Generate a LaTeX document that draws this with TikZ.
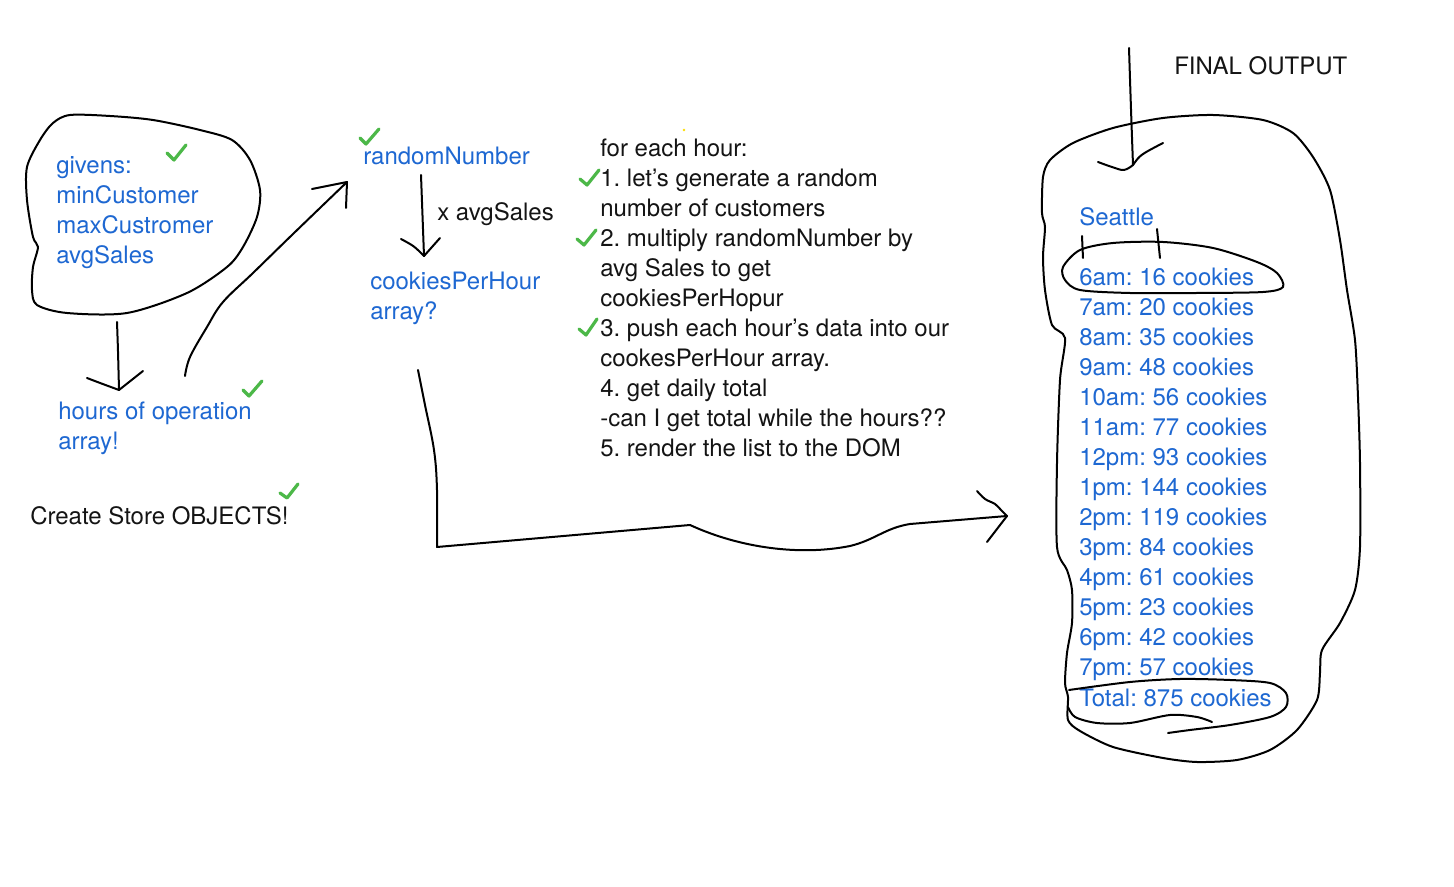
\documentclass[tikz,border=0pt]{standalone}
\usepackage{fontspec}
\setmainfont{TeX Gyre Heros}
\frenchspacing
\definecolor{inkblue}{RGB}{30,104,210}
\definecolor{inkgreen}{RGB}{76,184,72}
\definecolor{inkblack}{RGB}{20,20,20}
\begin{document}
\begin{tikzpicture}[x=0.75pt,y=-0.75pt,
  txt/.style={anchor=base west, inner sep=0pt, font=\fontsize{18}{22}\selectfont, text=inkblack},
  btxt/.style={txt, text=inkblue},
  pen/.style={draw=black, line width=1.5pt, line cap=round, line join=round},
  tick/.style={draw=inkgreen, line width=2.4pt, line cap=round, line join=round}]
\useasboundingbox[fill=white] (0,0) rectangle (1454,887);

% ---------- left blob ----------
\draw[pen] plot[smooth cycle, tension=0.5] coordinates {(70,115) (110,116) (153,120) (200,130) (232,140) (250,160) (260,190) (257,217) (243,247) (227,267) (187,293) (127,313) (67,313) (37,305) (32,290) (33,267) (38,247) (33,237) (27,200) (27,167) (40,140) (53,123)};
\node[btxt] (givens) at (56,174) {givens:};
\node[btxt] (minc) at (56,204) {minCustomer};
\node[btxt] (maxc) at (56,234) {maxCustromer};
\node[btxt] (avgs) at (56,264) {avgSales};
\draw[tick] (167,153) -- (174,160) -- (186,145);

% arrow down to hours
\coordinate (a1s) at (117,322);
\coordinate (a1e) at (119,390);
\draw[pen] (a1s) .. controls (118,350) .. (a1e);
\draw[pen] (87,378) .. controls (100,383) .. (a1e) -- (143,371);

\node[btxt] (hours) at (58,420) {hours of operation};
\node[btxt] (hours2) at (58,450) {array!};
\draw[tick] (243,390) -- (249,396) -- (262,381);

\node[txt] (create) at (30,525) {Create Store OBJECTS!};
\draw[tick] (280,493) -- (287,498) -- (298,484);

% curve up to randomNumber
\coordinate (a2s) at (185,376);
\coordinate (a2e) at (347,182);
\draw[pen] plot[smooth, tension=0.6] coordinates {(a2s) (190,357) (207,327) (223,302) (253,273) (293,234) (a2e)};
\draw[pen] (312,189) -- (a2e) -- (346,208);

% ---------- middle ----------
\node[btxt] (rand) at (363,165) {randomNumber};
\draw[tick] (360,138) -- (366,144) -- (379,129);
\coordinate (a3s) at (421,175);
\coordinate (a3e) at (424,256);
\draw[pen] (a3s) .. controls (423,215) .. (a3e);
\draw[pen] (401,239) .. controls (414,246) .. (a3e) -- (440,238);
\node[txt] (xavg) at (437,221) {x avgSales};
\node[btxt] (cph) at (370,290) {cookiesPerHour};
\node[btxt] (cph2) at (370,320) {array?};

% text block
\node[txt] (t0) at (600,157) {for each hour:};
\node[txt] (t1) at (600,187) {1. let’s generate a random};
\node[txt] (t2) at (600,217) {number of customers};
\node[txt] (t3) at (600,247) {2. multiply randomNumber by};
\node[txt] (t4) at (600,277) {avg Sales to get};
\node[txt] (t5) at (600,307) {cookiesPerHopur};
\node[txt] (t6) at (600,337) {3. push each hour’s data into our};
\node[txt] (t7) at (600,367) {cookesPerHour array.};
\node[txt] (t8) at (600,397) {4. get daily total};
\node[txt] (t9) at (600,427) {-can I get total while the hours??};
\node[txt] (t10) at (600,457) {5. render the list to the DOM};
\draw[tick] (580,179) -- (587,185) -- (599,170);
\draw[tick] (577,239) -- (584,245) -- (596,230);
\draw[tick] (579,329) -- (586,335) -- (597,319);
\fill[yellow!80!orange] (684,130) circle (1pt);

% bottom connector
\coordinate (a4s) at (418,370);
\coordinate (a4e) at (1007,516);
\draw[pen] plot[smooth, tension=0.6] coordinates {(a4s) (425,405) (434,450) (437,490) (437,547)} -- (690,525) .. controls (740,548) and (800,556) .. (850,546) .. controls (875,540) and (885,528) .. (910,524) -- (a4e);
\draw[pen] plot[smooth, tension=0.6] coordinates {(977,491) (985,499) (995,504) (1001,510) (a4e)};
\draw[pen] (a4e) -- (987,542);

% ---------- right blob ----------
\draw[pen] plot[smooth cycle, tension=0.45] coordinates {(1043,177) (1050,160) (1073,143) (1113,128) (1163,118) (1213,115) (1263,120) (1293,133) (1313,157) (1330,190) (1340,240) (1347,290) (1355,340) (1358,397) (1360,463) (1360,547) (1355,590) (1340,623) (1322,650) (1320,673) (1317,700) (1297,730) (1270,750) (1237,760) (1197,762) (1163,758) (1113,747) (1080,731) (1068,720) (1068,697) (1065,683) (1067,653) (1072,623) (1072,590) (1067,570) (1057,547) (1057,463) (1060,380) (1065,338) (1052,325) (1045,290) (1043,257) (1045,227) (1042,213)};

% top arrow
\node[txt] (final) at (1174,75) {FINAL OUTPUT};
\coordinate (a5s) at (1129,48);
\coordinate (a5e) at (1133,165);
\draw[pen] (a5s) .. controls (1131,110) .. (a5e);
\draw[pen] plot[smooth, tension=0.6] coordinates {(1098,162) (1112,167) (1124,170) (a5e)};
\draw[pen] (a5e) .. controls (1140,155) .. (1163,143);

\node[btxt] (seattle) at (1079,226) {Seattle};
\draw[pen] plot[smooth cycle, tension=0.5] coordinates {(1080,250) (1113,243) (1163,242) (1213,248) (1257,262) (1277,273) (1283,287) (1263,292) (1197,293) (1130,293) (1080,290) (1065,280) (1063,267)};
\draw[pen] (1082,236) -- (1083,258);
\draw[pen] (1157,229) -- (1160,258);

\node[btxt] (h0) at (1079,286) {6am: 16 cookies};
\node[btxt] (h1) at (1079,316) {7am: 20 cookies};
\node[btxt] (h2) at (1079,346) {8am: 35 cookies};
\node[btxt] (h3) at (1079,376) {9am: 48 cookies};
\node[btxt] (h4) at (1079,406) {10am: 56 cookies};
\node[btxt] (h5) at (1079,436) {11am: 77 cookies};
\node[btxt] (h6) at (1079,466) {12pm: 93 cookies};
\node[btxt] (h7) at (1079,496) {1pm: 144 cookies};
\node[btxt] (h8) at (1079,526) {2pm: 119 cookies};
\node[btxt] (h9) at (1079,556) {3pm: 84 cookies};
\node[btxt] (h10) at (1079,586) {4pm: 61 cookies};
\node[btxt] (h11) at (1079,616) {5pm: 23 cookies};
\node[btxt] (h12) at (1079,646) {6pm: 42 cookies};
\node[btxt] (h13) at (1079,676) {7pm: 57 cookies};
\node[btxt] (h14) at (1079,706) {Total: 875 cookies};

% total ellipse
\draw[pen] plot[smooth, tension=0.5] coordinates {(1069,690) (1130,682) (1180,679) (1230,680) (1270,683) (1286,693) (1286,707) (1270,717) (1230,725) (1190,730) (1168,733)};
\draw[pen] plot[smooth, tension=0.5] coordinates {(1068,707) (1075,717) (1097,723) (1130,723) (1170,715) (1197,717) (1212,722)};
\end{tikzpicture}
\end{document}
